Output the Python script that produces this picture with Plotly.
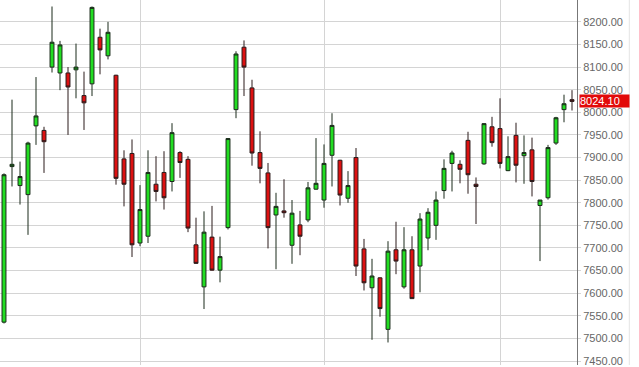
import plotly.graph_objects as go

opens = [7536, 7880, 7838, 7818, 7970, 7960, 8100, 8087, 8087, 8094,
         8037, 8063, 8166, 8125, 8082, 7897, 7909, 7711, 7726, 7841,
         7867, 7847, 7911, 7896, 7707, 7614, 7724, 7651, 7745, 8006,
         8144, 8054, 7911, 7866, 7773, 7782, 7706, 7751, 7762, 7830,
         7806, 7905, 7894, 7810, 7900, 7698, 7612, 7634, 7520, 7696,
         7614, 7696, 7660, 7722, 7750, 7827, 7887, 7885, 7938, 7841,
         7886, 7968, 7964, 7871, 7949, 7904, 7917, 7794, 7811, 7932,
         8006, 8028]
highs = [7865, 8028, 7891, 7935, 8078, 7968, 8234, 8158, 8100, 8152,
         8090, 8234, 8185, 8200, 8083, 7916, 7940, 7839, 7916, 7903,
         7914, 7976, 7914, 7903, 7767, 7781, 7793, 7725, 7943, 8135,
         8159, 8072, 7958, 7888, 7822, 7852, 7806, 7782, 7846, 7943,
         7929, 7998, 7895, 7870, 7921, 7720, 7676, 7635, 7715, 7758,
         7746, 7726, 7777, 7788, 7825, 7896, 7915, 7894, 7957, 7856,
         7976, 7990, 8031, 7947, 7977, 7949, 7944, 7806, 7928, 7990,
         8039, 8049]
lows = [7533, 7836, 7796, 7729, 7928, 7866, 8088, 8049, 7950, 8031,
        7961, 8036, 8084, 8117, 7840, 7792, 7680, 7704, 7711, 7803,
        7785, 7825, 7855, 7735, 7665, 7565, 7650, 7624, 7741, 7987,
        8036, 7882, 7843, 7699, 7653, 7767, 7665, 7684, 7757, 7829,
        7789, 7836, 7794, 7800, 7638, 7606, 7497, 7548, 7491, 7642,
        7610, 7588, 7602, 7695, 7718, 7809, 7825, 7843, 7820, 7753,
        7884, 7924, 7876, 7870, 7845, 7842, 7814, 7671, 7807, 7928,
        7978, 8004]
closes = [7862, 7885, 7858, 7932, 7992, 7935, 8155, 8149, 8056, 8100,
          8021, 8232, 8138, 8177, 7854, 7841, 7707, 7785, 7867, 7825,
          7811, 7955, 7889, 7744, 7666, 7735, 7651, 7681, 7942, 8129,
          8100, 7910, 7876, 7745, 7792, 7778, 7777, 7726, 7833, 7843,
          7887, 7971, 7817, 7838, 7660, 7623, 7638, 7566, 7693, 7671,
          7696, 7588, 7764, 7779, 7806, 7876, 7910, 7874, 7862, 7836,
          7975, 7933, 7887, 7902, 7883, 7911, 7847, 7806, 7922, 7988,
          8019, 8024.1]

tick_values = list(range(7450, 8201, 50))
tick_labels = [f"{v:.2f}" for v in tick_values]
vgrid_positions = [17, 40, 62]
last_price = 8024.10

x = list(range(len(opens)))

fig = go.Figure()
fig.add_trace(go.Candlestick(
    x=x, open=opens, high=highs, low=lows, close=closes,
    increasing=dict(fillcolor="#22dd22", line=dict(color="#1a2a1a", width=1)),
    decreasing=dict(fillcolor="#dd1111", line=dict(color="#2a1a1a", width=1)),
    whiskerwidth=0,
    showlegend=False,
    hoverinfo="skip",
))

fig.update_layout(
    width=639, height=367,
    margin=dict(l=0, r=62, t=0, b=0),
    paper_bgcolor="white", plot_bgcolor="white",
    font=dict(family="Liberation Sans, Arial, sans-serif", size=11, color="#666666"),
    showlegend=False,
    xaxis=dict(
        range=[-0.5, 71.625],
        rangeslider=dict(visible=False),
        tickvals=vgrid_positions,
        showticklabels=False,
        showgrid=True, gridcolor="#d4d4d4", gridwidth=1,
        zeroline=False, showline=False, ticks="",
    ),
    yaxis=dict(
        side="right",
        range=[7441.2, 8248.4],
        tickvals=tick_values, ticktext=tick_labels,
        ticklabeloverflow="allow",
        showgrid=True, gridcolor="#d4d4d4", gridwidth=1,
        zeroline=False,
        showline=True, linecolor="#777777", linewidth=1,
        ticks="outside", ticklen=3, tickcolor="#d4d4d4",
        tickfont=dict(family="Liberation Sans, Arial, sans-serif", size=11, color="#666666"),
    ),
)

fig.add_annotation(
    x=1, xref="paper", xanchor="left", xshift=2,
    y=last_price, yref="y", yanchor="middle",
    text=f"{last_price:.2f}", showarrow=False,
    bgcolor="#e20a0a", font=dict(color="white", size=11, family="Liberation Sans, Arial, sans-serif"),
    borderpad=0, width=49, align="left",
)

fig.add_shape(type="line", xref="paper", yref="paper",
              x0=629.3 / 577, x1=629.3 / 577, y0=0, y1=1,
              line=dict(color="#e4e4e4", width=1))

fig.write_html("out.html")
